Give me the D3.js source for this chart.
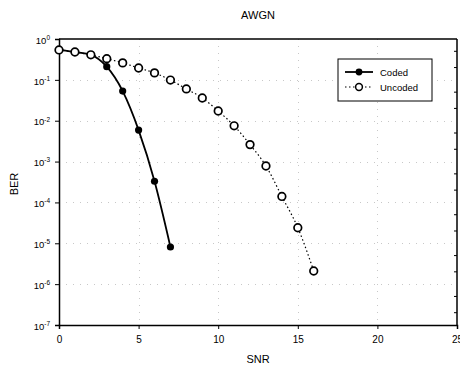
<!DOCTYPE html>
<html>
<head>
<meta charset="utf-8">
<script src="https://cdn.jsdelivr.net/npm/d3@7.9.0/dist/d3.min.js"></script>
<style>
  body { margin: 0; background: #fff; }
  svg { font-family: "Liberation Sans", Arial, sans-serif; }
</style>
</head>
<body>
<svg id="chart" width="460" height="368"></svg>
<script>
// ── Data ───────────────────────────────────────────────────────────────────
const snrCoded = [0, 1, 2, 3, 4, 5, 6, 7];
const berCoded = [0.54, 0.48, 0.41, 0.21, 0.053, 0.0059, 3.3e-4, 8.1e-6];

const snrUncoded = [0, 1, 2, 3, 4, 5, 6, 7, 8, 9, 10, 11, 12, 13, 14, 15, 16];
const berUncoded = [0.54, 0.48, 0.41, 0.33, 0.26, 0.195, 0.148, 0.099, 0.06,
  0.036, 0.0173, 0.0075, 0.0026, 7.8e-4, 1.4e-4, 2.4e-5, 2.1e-6];

const xTicks = [0, 5, 10, 15, 20, 25];
const yExponents = [0, -1, -2, -3, -4, -5, -6, -7];

// ── Layout ─────────────────────────────────────────────────────────────────
const margin = { left: 59, right: 3, top: 39, bottom: 43 };
const W = 460, H = 368;
const svg = d3.select('#chart');

const x = d3.scaleLinear().domain([0, 25]).range([margin.left, W - margin.right]);
const y = d3.scaleLog().domain([1e-7, 1]).range([H - margin.bottom, margin.top]);

// faint dotted grid (scan-like)
const grid = svg.append('g').attr('stroke', '#c8c8c8').attr('stroke-width', 1)
  .attr('stroke-dasharray', '1,6');
yExponents.slice(1, -1).forEach((e) => {
  grid.append('line')
    .attr('x1', x(0)).attr('x2', x(25))
    .attr('y1', Math.round(y(Math.pow(10, e))) + 0.5)
    .attr('y2', Math.round(y(Math.pow(10, e))) + 0.5);
});
xTicks.slice(1, -1).forEach((t) => {
  grid.append('line')
    .attr('y1', y(1)).attr('y2', y(1e-7))
    .attr('x1', Math.round(x(t)) + 0.5).attr('x2', Math.round(x(t)) + 0.5);
});

// axes
const xAxis = d3.axisBottom(x).tickValues(xTicks).tickSize(4).tickFormat(d3.format('d'));
svg.append('g')
  .attr('transform', `translate(0,${y(1e-7)})`)
  .call(xAxis)
  .call((g) => g.select('.domain').attr('stroke-width', 1.5))
  .call((g) => g.selectAll('text').attr('font-size', 10).attr('dy', '1.1em'));

const yAxis = d3.axisLeft(y)
  .tickValues(yExponents.map((e) => Math.pow(10, e)))
  .tickSize(4)
  .tickFormat(() => '');
const yg = svg.append('g')
  .attr('transform', `translate(${x(0)},0)`)
  .call(yAxis)
  .call((g) => g.select('.domain').attr('stroke-width', 1.5));

yg.selectAll('.tick').each(function (d, i) {
  const t = d3.select(this).select('text')
    .attr('font-size', 9.5).attr('x', -9).attr('dy', '0.45em');
  t.append('tspan').text('10');
  t.append('tspan').attr('font-size', 6.5).attr('dy', '-0.6em').text(String(yExponents[i]));
});

// frame top and right
svg.append('line').attr('x1', x(0)).attr('x2', x(25)).attr('y1', y(1)).attr('y2', y(1))
  .attr('stroke', '#000').attr('stroke-width', 1.5);
svg.append('line').attr('x1', x(25)).attr('x2', x(25)).attr('y1', y(1)).attr('y2', y(1e-7))
  .attr('stroke', '#000').attr('stroke-width', 1.5);

// right-axis minor ticks
d3.range(-7, 0).forEach((e) => {
  [2, 5].forEach((m) => {
    svg.append('line')
      .attr('x1', x(25) - 3).attr('x2', x(25))
      .attr('y1', y(m * Math.pow(10, e))).attr('y2', y(m * Math.pow(10, e)))
      .attr('stroke', '#000');
  });
});

// ── Series ─────────────────────────────────────────────────────────────────
const coded = snrCoded.map((s, i) => [s, berCoded[i]]);
const uncoded = snrUncoded.map((s, i) => [s, berUncoded[i]]);

const line = d3.line().x((d) => x(d[0])).y((d) => y(d[1])).curve(d3.curveMonotoneX);

svg.append('path').datum(coded)
  .attr('d', line)
  .attr('fill', 'none').attr('stroke', '#000').attr('stroke-width', 1.8);

svg.append('path').datum(uncoded)
  .attr('d', line)
  .attr('fill', 'none').attr('stroke', '#000').attr('stroke-width', 1.2)
  .attr('stroke-dasharray', '1.5,2.5');

svg.selectAll('.cd').data(coded).join('circle')
  .attr('cx', (d) => x(d[0])).attr('cy', (d) => y(d[1])).attr('r', 3.6)
  .attr('fill', '#000');

// open markers on top, as in the original
svg.selectAll('.uc').data(uncoded).join('circle')
  .attr('cx', (d) => x(d[0])).attr('cy', (d) => y(d[1])).attr('r', 3.8)
  .attr('fill', '#fff').attr('stroke', '#000').attr('stroke-width', 1.7);

// ── Legend ─────────────────────────────────────────────────────────────────
const lg = svg.append('g').attr('transform', 'translate(338,59)');
lg.append('rect').attr('width', 94).attr('height', 42)
  .attr('fill', '#fff').attr('stroke', '#000').attr('stroke-width', 1);
lg.append('line').attr('x1', 7).attr('x2', 35).attr('y1', 13).attr('y2', 13)
  .attr('stroke', '#000').attr('stroke-width', 1.8);
lg.append('circle').attr('cx', 21).attr('cy', 13).attr('r', 3.4).attr('fill', '#000');
lg.append('line').attr('x1', 7).attr('x2', 35).attr('y1', 28).attr('y2', 28)
  .attr('stroke', '#000').attr('stroke-width', 1.2).attr('stroke-dasharray', '1.5,2.5');
lg.append('circle').attr('cx', 21).attr('cy', 28).attr('r', 3.4)
  .attr('fill', '#fff').attr('stroke', '#000').attr('stroke-width', 1.5);
lg.append('text').attr('x', 42).attr('y', 16.5).attr('font-size', 9.5).text('Coded');
lg.append('text').attr('x', 42).attr('y', 31.5).attr('font-size', 9.5).text('Uncoded');

// ── Titles ─────────────────────────────────────────────────────────────────
svg.append('text').attr('x', 258).attr('y', 19).attr('text-anchor', 'middle')
  .attr('font-size', 11).text('AWGN');
svg.append('text').attr('x', 258).attr('y', 363).attr('text-anchor', 'middle')
  .attr('font-size', 11).text('SNR');
svg.append('text').attr('transform', 'translate(18,184) rotate(-90)')
  .attr('text-anchor', 'middle').attr('font-size', 11).text('BER');
</script>
</body>
</html>
